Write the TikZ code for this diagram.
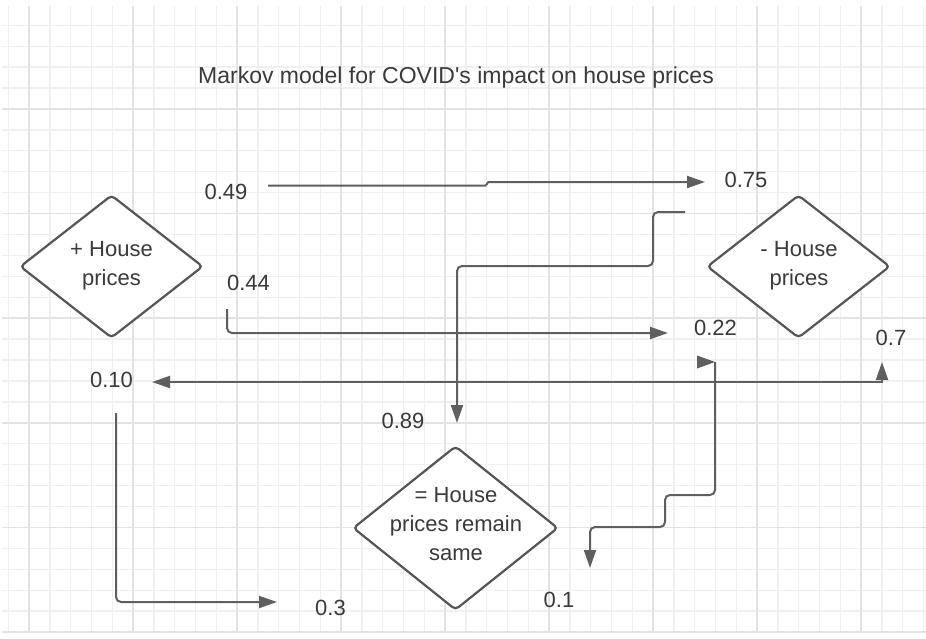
\documentclass[tikz,border=0pt]{standalone}
\usepackage{fontspec}
\setmainfont{Liberation Sans}
\usetikzlibrary{shapes.geometric,arrows.meta}
\definecolor{gridminor}{HTML}{F0F0F0}
\definecolor{gridmajor}{HTML}{E3E3E3}
\definecolor{linec}{HTML}{5F5F5F}
\definecolor{diamc}{HTML}{555555}
\definecolor{txtc}{HTML}{3A3A3A}
\tikzset{
  gminor/.style={draw=gridminor, line width=1.3pt},
  gmajor/.style={draw=gridmajor, line width=1.5pt},
  diam/.style={shape=diamond, draw=diamc, fill=white, line width=2.2pt, rounded corners=4pt, inner sep=0pt},
  dtext/.style={text=txtc, align=center, inner sep=0pt, font=\fontsize{22}{29}\selectfont},
  lbl/.style={text=txtc, inner sep=0pt, font=\fontsize{22}{26}\selectfont},
  ttl/.style={text=txtc, inner sep=0pt, font=\fontsize{23}{28}\selectfont},
  conn/.style={draw=linec, line width=2pt, rounded corners=5pt},
  tipA/.style={-{Triangle[length=18pt,width=12pt]}},
  tipAB/.style={{Triangle[length=18pt,width=12pt]}-{Triangle[length=18pt,width=12pt]}}
}
\begin{document}
\begin{tikzpicture}[x=1pt,y=-1pt]
\useasboundingbox (0,0) rectangle (926,638);
\fill[white] (0,0) rectangle (926,638);
% grid
\foreach \i in {0,...,44} {\pgfmathsetmacro\gx{8.4+20.8*\i}\draw[gminor] (\gx,6) -- (\gx,633);}
\foreach \j in {0,...,29} {\pgfmathsetmacro\gy{25.3+20.92*\j}\draw[gminor] (2,\gy) -- (926,\gy);}
\foreach \i in {1,6,...,41} {\pgfmathsetmacro\gx{8.4+20.8*\i}\draw[gmajor] (\gx,6) -- (\gx,633);}
\foreach \j in {4,9,...,29} {\pgfmathsetmacro\gy{25.3+20.92*\j}\draw[gmajor] (2,\gy) -- (926,\gy);}

% title
\node[ttl, anchor=base] (title) at (456,83) {Markov model for COVID\textquotesingle s impact on house prices};

% diamonds
\node[diam, minimum width=183pt, minimum height=143pt] (d1) at (111.5,266.5) {};
\node[diam, minimum width=183pt, minimum height=143pt] (d2) at (798.5,266.5) {};
\node[diam, minimum width=205pt, minimum height=164pt] (d3) at (455.5,528) {};
\node[dtext, anchor=north] (t1) at (111.5,241.5) {+ House\\prices};
\node[dtext, anchor=north] (t2) at (799,241.5) {- House\\prices};
\node[dtext, anchor=north] (t3) at (456,487) {= House\\prices remain\\same};

% labels
\node[lbl, anchor=base] (l049) at (226,199) {0.49};
\node[lbl, anchor=base] (l075) at (746,187) {0.75};
\node[lbl, anchor=base] (l044) at (248.5,290) {0.44};
\node[lbl, anchor=base] (l022) at (715.5,335) {0.22};
\node[lbl, anchor=base] (l07) at (891,345) {0.7};
\node[lbl, anchor=base] (l010) at (111.5,387) {0.10};
\node[lbl, anchor=base] (l089) at (403,428) {0.89};
\node[lbl, anchor=base] (l03) at (330.5,615) {0.3};
\node[lbl, anchor=base] (l01) at (559,607) {0.1};

% connector end points
\coordinate (c1s) at (268,185.5);
\coordinate (c1e) at (705,182);
\coordinate (c2s) at (685,212);
\coordinate (c2e) at (457,423);
\coordinate (c3s) at (227,309);
\coordinate (c3e) at (668,333);
\coordinate (c4s) at (715,362);
\coordinate (c4e) at (590,568);
\coordinate (c5s) at (152,382);
\coordinate (c5e) at (882,362);
\coordinate (c6s) at (116,413);
\coordinate (c6e) at (277,602);

% connectors
\draw[conn, rounded corners=1.5pt, tipA] (c1s) -- (487,185.5) -- (487,182) -- (c1e);
\draw[conn, tipA] (c2s) -- (653,212) -- (653,266) -- (457,266) -- (c2e);
\draw[conn, tipA] (c3s) -- (227,333) -- (c3e);
\draw[conn, tipA] (c4s) -- (715,495) -- (665,495) -- (665,527) -- (590,527) -- (c4e);
\fill[linec] (c4s) -- ++(-18,-6.5) -- ++(0,13) -- cycle;
\draw[conn, rounded corners=0pt, tipAB] (c5s) -- (882,382) -- (c5e);
\draw[conn, tipA] (c6s) -- (116,602) -- (c6e);
\end{tikzpicture}
\end{document}
